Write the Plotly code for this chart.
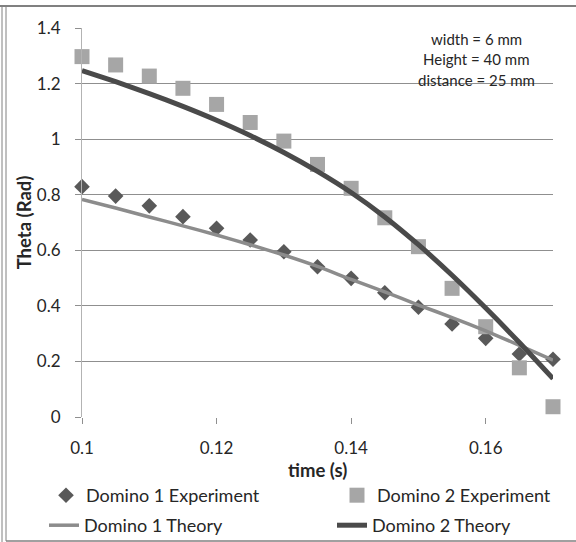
import plotly.graph_objects as go

# ---------------- data ----------------
time_s = [0.100, 0.105, 0.110, 0.115, 0.120, 0.125, 0.130, 0.135,
          0.140, 0.145, 0.150, 0.155, 0.160, 0.165, 0.170]

domino1_exp = [0.829, 0.795, 0.760, 0.721, 0.679, 0.637, 0.595, 0.541,
               0.499, 0.447, 0.395, 0.335, 0.283, 0.227, 0.208]
domino2_exp = [1.297, 1.267, 1.227, 1.183, 1.125, 1.060, 0.993, 0.909,
               0.823, 0.717, 0.613, 0.463, 0.325, 0.177, 0.037]

domino1_theory = [0.783, 0.752, 0.720, 0.688, 0.655, 0.620, 0.583, 0.542,
                  0.495, 0.450, 0.403, 0.358, 0.310, 0.258, 0.205]
domino2_theory = [1.247, 1.207, 1.164, 1.118, 1.068, 1.013, 0.952, 0.884,
                  0.808, 0.720, 0.620, 0.510, 0.392, 0.268, 0.138]

x_ticks = [0.10, 0.12, 0.14, 0.16]
x_tick_labels = ["0.1", "0.12", "0.14", "0.16"]
y_ticks = [0, 0.2, 0.4, 0.6, 0.8, 1.0, 1.2, 1.4]
y_tick_labels = ["0", "0.2", "0.4", "0.6", "0.8", "1", "1.2", "1.4"]

note_lines = ["width = 6 mm", "Height = 40 mm", "distance = 25 mm"]

# ---------------- layout constants ----------------
W, H = 576, 542
ML, MR, MT, MB = 82, 23, 28, 125
PW, PH = W - ML - MR, H - MT - MB
FONT = "Lato"
TXT = "#262626"


def fx(px):
    return (px - ML) / PW


def fy(py):
    return (H - MB - py) / PH


fig = go.Figure()

fig.add_trace(go.Scatter(
    x=time_s, y=domino1_exp, mode="markers", name="Domino 1 Experiment",
    marker=dict(symbol="diamond", size=12, color="#595959"),
    cliponaxis=False, legend="legend"))
fig.add_trace(go.Scatter(
    x=time_s, y=domino2_exp, mode="markers", name="Domino 2 Experiment",
    marker=dict(symbol="square", size=15, color="#a6a6a6"),
    cliponaxis=False, legend="legend3"))
fig.add_trace(go.Scatter(
    x=time_s, y=domino1_theory, mode="lines", name="Domino 1 Theory",
    line=dict(color="#8c8c8c", width=3.5, shape="spline", smoothing=0.6),
    cliponaxis=False, legend="legend2"))
fig.add_trace(go.Scatter(
    x=time_s, y=domino2_theory, mode="lines", name="Domino 2 Theory",
    line=dict(color="#4a4a4a", width=5, shape="spline", smoothing=0.6),
    cliponaxis=False, legend="legend4"))

# note text
for i, t in enumerate(note_lines):
    fig.add_annotation(x=fx(476), y=fy(39 + i * 20.5), xref="paper", yref="paper",
                       text=t, showarrow=False, xanchor="center", yanchor="middle",
                       font=dict(family=FONT, size=15, color=TXT))

# x axis title
fig.add_annotation(x=0.5, y=fy(470), xref="paper", yref="paper",
                   text="<b>time (s)</b>", showarrow=False,
                   xanchor="center", yanchor="middle",
                   font=dict(family=FONT, size=18.5, color=TXT))

# outer frame
frame_col = "#808080"
fig.add_shape(type="line", xref="paper", yref="paper", x0=fx(0), x1=fx(W), y0=fy(6), y1=fy(6),
              line=dict(color=frame_col, width=2))
fig.add_shape(type="line", xref="paper", yref="paper", x0=fx(2), x1=fx(2), y0=fy(6), y1=fy(H),
              line=dict(color=frame_col, width=1))
fig.add_shape(type="line", xref="paper", yref="paper", x0=fx(6), x1=fx(6), y0=fy(6), y1=fy(541),
              line=dict(color=frame_col, width=1))
fig.add_shape(type="line", xref="paper", yref="paper", x0=fx(6), x1=fx(W), y0=fy(541), y1=fy(541),
              line=dict(color=frame_col, width=1.5))


def legend_at(px_text, py_top):
    return dict(orientation="h", xref="container", yref="container",
                x=(px_text - 41) / W, y=1 - py_top / H, xanchor="left", yanchor="top",
                bgcolor="rgba(0,0,0,0)", borderwidth=0,
                font=dict(family=FONT, size=18, color=TXT))


grid_col = "#8f8f8f"
fig.update_layout(
    width=W, height=H,
    margin=dict(l=ML, r=MR, t=MT, b=MB, pad=0, autoexpand=False),
    paper_bgcolor="white", plot_bgcolor="white",
    font=dict(family=FONT, size=17, color=TXT),
    xaxis=dict(range=[0.1, 0.17], tickvals=x_ticks, ticktext=x_tick_labels,
               showgrid=False, zeroline=False, showline=False,
               ticks="outside", ticklen=6, tickcolor=grid_col, tickwidth=1,
               ticklabelstandoff=10, tickfont=dict(family=FONT, size=17, color=TXT)),
    yaxis=dict(range=[0, 1.4], tickvals=y_ticks, ticktext=y_tick_labels,
               showgrid=True, gridcolor=grid_col, gridwidth=1,
               zeroline=False, showline=True, linecolor="#b3b3b3", linewidth=1,
               ticks="outside", ticklen=6, tickcolor=grid_col, tickwidth=1,
               ticklabelstandoff=11, tickfont=dict(family=FONT, size=17, color=TXT),
               title=dict(text="<b>Theta (Rad)</b>", standoff=0,
                          font=dict(family=FONT, size=18.5, color=TXT))),
    legend=legend_at(87, 477),
    legend2=legend_at(85, 507),
    legend3=legend_at(378, 477),
    legend4=legend_at(373, 507),
    showlegend=True,
)

fig.write_html("out.html")
